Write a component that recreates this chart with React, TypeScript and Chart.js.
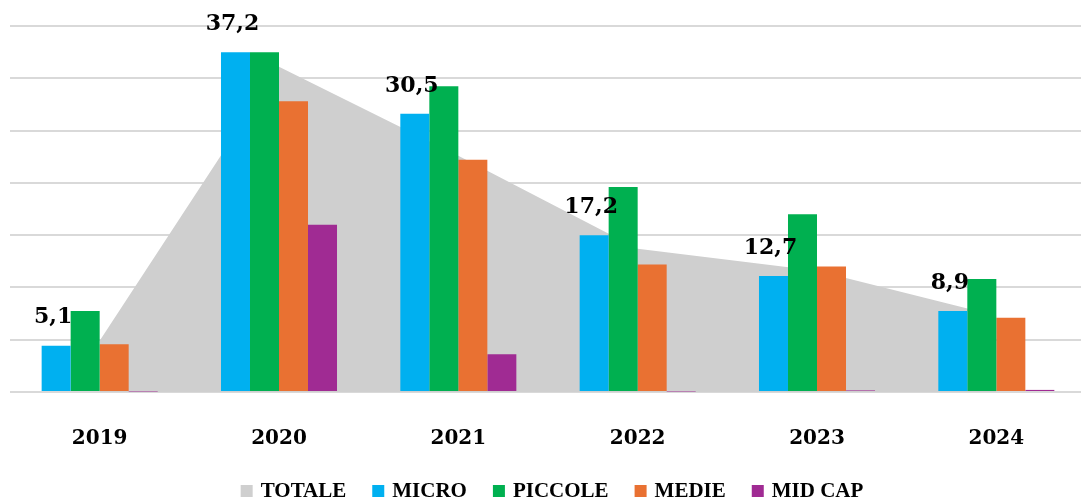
import React, { useEffect, useRef } from 'react';
import { Chart, registerables } from 'chart.js';

Chart.register(...registerables);

// ---- data ----
const categories = ['2019', '2020', '2021', '2022', '2023', '2024'];
const seriesNames = ['TOTALE', 'MICRO', 'PICCOLE', 'MEDIE', 'MID CAP'];
const totaleArea = [4.9, 31.1, 22.6, 13.7, 11.6, 7.3];
const totaleLabels = [5.1, 37.2, 30.5, 17.2, 12.7, 8.9];
const micro = [4.43, 32.5, 26.6, 15.0, 11.1, 7.75];
const piccole = [7.74, 32.5, 29.25, 19.6, 17.0, 10.8];
const medie = [4.56, 27.8, 22.2, 12.2, 12.0, 7.1];
const midCap = [0.05, 16.0, 3.6, 0.05, 0.15, 0.2];
const yMax = 35;
const yStep = 5;

const colors = {
  totale: '#cfcfcf',
  micro: '#00b0f0',
  piccole: '#00b050',
  medie: '#e97132',
  midCap: '#a02b93',
};

const fmt = (v: number) => v.toFixed(1).replace('.', ',');

const totalLabelPlugin = {
  id: 'totalLabels',
  afterDatasetsDraw(chart: any) {
    const meta = chart.getDatasetMeta(1);
    const ctx = chart.ctx;
    ctx.save();
    ctx.font = 'bold 22px "DejaVu Serif"';
    ctx.fillStyle = '#000';
    ctx.textAlign = 'center';
    ctx.textBaseline = 'middle';
    meta.data.forEach((bar: any, i: number) => {
      ctx.fillText(fmt(totaleLabels[i]), bar.x - 3, bar.y - 28);
    });
    ctx.restore();
  },
};

// legend drawn from the chart's own datasets
const bottomLegendPlugin = {
  id: 'bottomLegend',
  afterDraw(chart: any) {
    const ctx = chart.ctx;
    const box = 12;
    const boxGap = 8;
    const itemGap = 26;
    ctx.save();
    ctx.font = 'bold 21px "Liberation Serif"';
    const items = chart.data.datasets.map((ds: any) => ({
      text: ds.label,
      color: ds.backgroundColor,
      w: box + boxGap + ctx.measureText(ds.label).width,
    }));
    const total = items.reduce((s: number, it: any) => s + it.w, 0) + itemGap * (items.length - 1);
    const ca = chart.chartArea;
    let x = (ca.left + ca.right) / 2 + 4 - total / 2;
    const y = chart.height - 11;
    ctx.textAlign = 'left';
    ctx.textBaseline = 'middle';
    items.forEach((it: any) => {
      ctx.fillStyle = it.color;
      ctx.fillRect(x, y - box / 2, box, box);
      ctx.fillStyle = '#000';
      ctx.fillText(it.text, x + box + boxGap, y + 1);
      x += it.w + itemGap;
    });
    ctx.restore();
  },
};

export default function App() {
  const ref = useRef<HTMLCanvasElement | null>(null);

  useEffect(() => {
    if (!ref.current) return;
    const barCommon = {
      type: 'bar' as const,
      categoryPercentage: 0.647,
      barPercentage: 1,
      borderWidth: 0,
      order: 1,
    };
    const chart = new Chart(ref.current, {
      type: 'bar',
      data: {
        labels: categories,
        datasets: [
          {
            type: 'line' as const,
            label: seriesNames[0],
            data: totaleArea,
            fill: 'origin',
            backgroundColor: colors.totale,
            borderColor: colors.totale,
            borderWidth: 0,
            pointRadius: 0,
            tension: 0,
            order: 10,
          } as any,
          { ...barCommon, label: seriesNames[1], data: micro, backgroundColor: colors.micro },
          { ...barCommon, label: seriesNames[2], data: piccole, backgroundColor: colors.piccole },
          { ...barCommon, label: seriesNames[3], data: medie, backgroundColor: colors.medie },
          { ...barCommon, label: seriesNames[4], data: midCap, backgroundColor: colors.midCap },
        ],
      },
      options: {
        responsive: false,
        animation: false,
        devicePixelRatio: 1,
        layout: { padding: { top: 26, left: 10, right: 0, bottom: 16 } },
        scales: {
          x: {
            offset: true,
            grid: { display: false, drawTicks: false },
            border: { display: false },
            ticks: {
              color: '#000',
              padding: 35,
              maxRotation: 0,
              font: { family: '"DejaVu Serif"', weight: 'bold', size: 20 },
            },
          },
          y: {
            min: 0,
            max: yMax,
            ticks: { display: false, stepSize: yStep },
            grid: { color: '#d9d9d9', lineWidth: 2, drawTicks: false },
            border: { display: false },
          },
        },
        plugins: {
          filler: { drawTime: 'beforeDatasetsDraw' },
          tooltip: { enabled: false },
          legend: { display: false },
        },
      } as any,
      plugins: [totalLabelPlugin, bottomLegendPlugin],
    });
    return () => chart.destroy();
  }, []);

  return (
    <div
      style={{
        position: 'absolute',
        left: 0,
        top: 0,
        width: 1081,
        height: 502,
        overflow: 'hidden',
        background: '#fff',
      }}
    >
      <canvas ref={ref} width={1086} height={502} style={{ display: 'block' }} />
    </div>
  );
}
